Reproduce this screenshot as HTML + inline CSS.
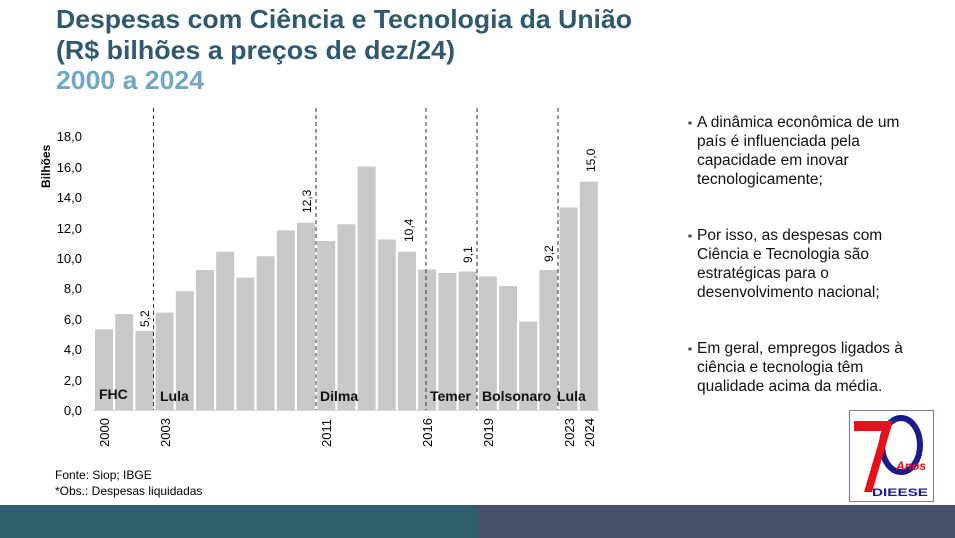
<!DOCTYPE html>
<html><head><meta charset="utf-8"><style>
html,body{margin:0;padding:0;background:#fff;}
svg{display:block;font-family:"Liberation Sans",Arial,sans-serif;}
</style></head><body>
<svg width="955" height="538" viewBox="0 0 955 538" xmlns="http://www.w3.org/2000/svg">
<rect width="955" height="538" fill="#fff"/>
<g font-weight="bold" font-size="26">
<text x="56" y="28" fill="#2f5a6e" textLength="576" lengthAdjust="spacingAndGlyphs">Despesas com Ciência e Tecnologia da União</text>
<text x="56" y="59" fill="#2f5a6e" textLength="399" lengthAdjust="spacingAndGlyphs">(R$ bilhões a preços de dez/24)</text>
<text x="56" y="89" fill="#6fa8c0" textLength="148" lengthAdjust="spacingAndGlyphs">2000 a 2024</text>
</g>
<g font-size="13" text-anchor="end" fill="#000">
<text x="82" y="415">0,0</text><text x="82" y="385">2,0</text><text x="82" y="354">4,0</text>
<text x="82" y="324">6,0</text><text x="82" y="293">8,0</text><text x="82" y="263">10,0</text>
<text x="82" y="233">12,0</text><text x="82" y="202">14,0</text><text x="82" y="172">16,0</text>
<text x="82" y="141">18,0</text>
</g>
<text transform="translate(50,188) rotate(-90)" font-size="12" font-weight="bold">Bilhões</text>
<g fill="#c8c8c8">
<rect x="95" y="329.3" width="18" height="80.7"/>
<rect x="115.2" y="314.1" width="18" height="95.9"/>
<rect x="135.4" y="330.9" width="18" height="79.1"/>
<rect x="155.6" y="312.6" width="18" height="97.4"/>
<rect x="175.8" y="291.3" width="18" height="118.7"/>
<rect x="196" y="270" width="18" height="140"/>
<rect x="216.2" y="251.7" width="18" height="158.3"/>
<rect x="236.4" y="277.6" width="18" height="132.4"/>
<rect x="256.6" y="256.3" width="18" height="153.7"/>
<rect x="276.8" y="230.4" width="18" height="179.6"/>
<rect x="297" y="222.8" width="18" height="187.2"/>
<rect x="317.2" y="241" width="18" height="169"/>
<rect x="337.4" y="224.3" width="18" height="185.7"/>
<rect x="357.6" y="166.5" width="18" height="243.5"/>
<rect x="377.8" y="239.5" width="18" height="170.5"/>
<rect x="398" y="251.7" width="18" height="158.3"/>
<rect x="418.2" y="269.5" width="18" height="140.5"/>
<rect x="438.4" y="273" width="18" height="137"/>
<rect x="458.6" y="271.5" width="18" height="138.5"/>
<rect x="478.8" y="276.5" width="18" height="133.5"/>
<rect x="499" y="286" width="18" height="124"/>
<rect x="519.2" y="321.5" width="18" height="88.5"/>
<rect x="539.4" y="270" width="18" height="140"/>
<rect x="559.6" y="207.5" width="18" height="202.5"/>
<rect x="579.8" y="181.7" width="18" height="228.3"/>
</g>
<line x1="93" y1="410.5" x2="599" y2="410.5" stroke="#d9d9d9" stroke-width="1"/>
<g stroke="#333" stroke-width="1" stroke-dasharray="4,3">
<line x1="153.5" y1="108" x2="153.5" y2="410"/>
<line x1="316" y1="108" x2="316" y2="410"/>
<line x1="426" y1="108" x2="426" y2="410"/>
<line x1="477" y1="108" x2="477" y2="410"/>
<line x1="558" y1="108" x2="558" y2="410"/>
</g>
<g font-size="12">
<text transform="translate(149,327) rotate(-90)">5,2</text>
<text transform="translate(311,213) rotate(-90)">12,3</text>
<text transform="translate(413,242) rotate(-90)">10,4</text>
<text transform="translate(472,263) rotate(-90)">9,1</text>
<text transform="translate(553,262) rotate(-90)">9,2</text>
<text transform="translate(595,172) rotate(-90)">15,0</text>
</g>
<g font-size="14" font-weight="bold" fill="#111">
<text x="99" y="399">FHC</text>
<text x="160" y="401">Lula</text>
<text x="320" y="401">Dilma</text>
<text x="430" y="401">Temer</text>
<text x="482" y="401">Bolsonaro</text>
<text x="557" y="401">Lula</text>
</g>
<g font-size="13">
<text transform="translate(109,447) rotate(-90)">2000</text>
<text transform="translate(170,447) rotate(-90)">2003</text>
<text transform="translate(331,447) rotate(-90)">2011</text>
<text transform="translate(432,447) rotate(-90)">2016</text>
<text transform="translate(493,447) rotate(-90)">2019</text>
<text transform="translate(574,447) rotate(-90)">2023</text>
<text transform="translate(594,447) rotate(-90)">2024</text>
</g>
<g font-size="12">
<text x="55" y="479">Fonte: Siop; IBGE</text>
<text x="55" y="495">*Obs.: Despesas liquidadas</text>
</g>
<g font-size="15.5" fill="#111">
<circle cx="690" cy="123" r="1.8" fill="#555"/>
<text x="697" y="127">A dinâmica econômica de um</text>
<text x="697" y="146">país é influenciada pela</text>
<text x="697" y="165">capacidade em inovar</text>
<text x="697" y="184">tecnologicamente;</text>
<circle cx="690" cy="236" r="1.8" fill="#555"/>
<text x="697" y="240">Por isso, as despesas com</text>
<text x="697" y="259">Ciência e Tecnologia são</text>
<text x="697" y="278">estratégicas para o</text>
<text x="697" y="297">desenvolvimento nacional;</text>
<circle cx="690" cy="349" r="1.8" fill="#555"/>
<text x="697" y="353">Em geral, empregos ligados à</text>
<text x="697" y="372">ciência e tecnologia têm</text>
<text x="697" y="391">qualidade acima da média.</text>
</g>
<rect x="849.5" y="410.5" width="84" height="91" fill="#fff" stroke="#7a7aa8" stroke-width="1"/>
<ellipse cx="901" cy="445" rx="19" ry="27" fill="none" stroke="#1a1a8c" stroke-width="6"/>
<path d="M854 421 L893 421 L872 492 L864 492 L882 431 L854 431 Z" fill="#e8101a"/>
<text x="896" y="470" font-size="12" font-weight="bold" font-style="italic" fill="#e8101a">Anos</text>
<text x="872" y="496" font-size="11" font-weight="bold" fill="#1a1a8c" textLength="56" lengthAdjust="spacingAndGlyphs">DIEESE</text>
<rect x="0" y="505" width="478" height="33" fill="#2f5e6d"/>
<rect x="478" y="505" width="477" height="33" fill="#45526a"/>
</svg>
</body></html>
